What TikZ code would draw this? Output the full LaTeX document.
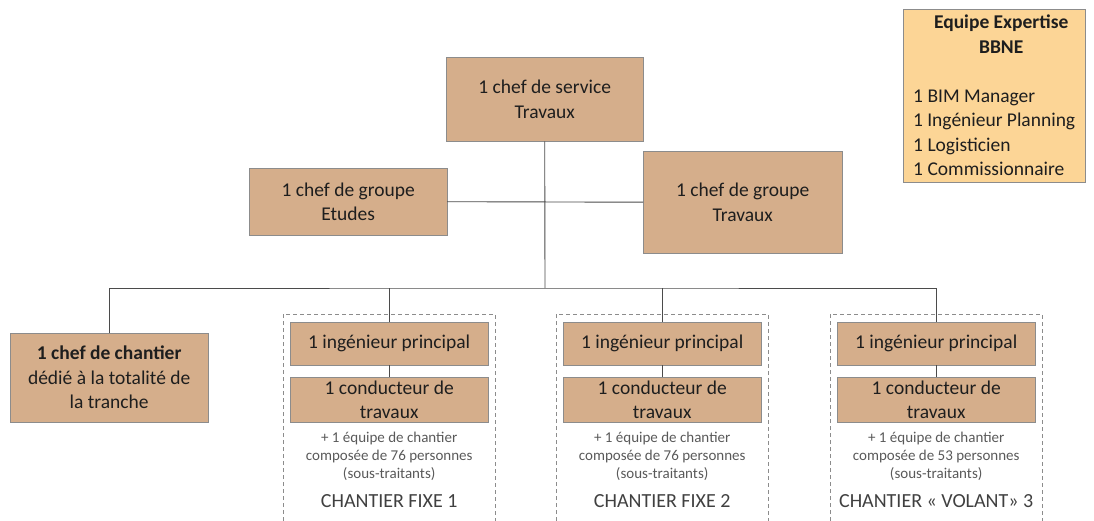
\documentclass[tikz,border=0pt]{standalone}
\usepackage{fontspec}
\setmainfont{Carlito}
\usetikzlibrary{positioning}

\definecolor{tan}{RGB}{213,174,139}
\definecolor{sable}{RGB}{252,213,150}
\definecolor{boxline}{RGB}{140,140,140}
\definecolor{ink}{RGB}{30,30,30}
\definecolor{grisclair}{RGB}{89,89,89}

\begin{document}
\begin{tikzpicture}[
    x=1pt, y=-1pt,
    every node/.append style = {font=\fontsize{19.5}{24.5}\selectfont},
    poste/.style = {draw=boxline, fill=tan, text=ink, align=center,
      inner sep=0pt, minimum width=198pt, anchor=north west},
    lien/.style = {draw=ink!80, line width=0.9pt},
    chantier/.style = {draw=boxline, dash pattern=on 4pt off 3pt, line width=0.9pt},
    equipe/.style = {text=grisclair, align=center,
      font=\fontsize{15}{18}\selectfont},
    titre/.style = {text=ink!85, font=\fontsize{20}{24}\selectfont}
  ]
  \useasboundingbox (0,0) rectangle (1094,521);
  % top of the chart
  \node[poste, minimum width=197pt, minimum height=84pt] (service) at (446,57)
    {1 chef de service\\Travaux};
  \node[poste, minimum height=67pt] (etudes) at (249,168)
    {1 chef de groupe\\Etudes};
  \node[poste, minimum width=199pt, minimum height=102pt] (travaux) at (643,151)
    {1 chef de groupe\\Travaux};
  \coordinate (bus) at (545,288);
  \draw[lien] (service.south) -- (bus);
  \draw[lien] (etudes.east) -- (travaux.west);
  % the chantier chief
  \node[poste, minimum height=89pt] (chef) at (10,333)
    {\textbf{1 chef de chantier}\\dédié à la totalité de\\la tranche};
  % the three sites
  \foreach \x/\n/\p/\nom in {290/1/76/{CHANTIER FIXE 1},
      563/2/76/{CHANTIER FIXE 2},
      837/3/53/{CHANTIER « VOLANT» 3}} {
    \draw[chantier] (\x-7,521) -- (\x-7,314) -- (\x+205,314) -- (\x+205,521);
    \node[poste, minimum height=43pt] (ing\n) at (\x,322)
      {1 ingénieur principal};
    \node[poste, minimum height=45pt] (cond\n) at (\x,377)
      {1 conducteur de\\[-1pt]travaux};
    \draw[lien] (ing\n.south) -- (cond\n.north);
    \node[equipe, below=6pt of cond\n] (eq\n)
      {+ 1 équipe de chantier\\composée de \p{} personnes\\(sous-traitants)};
    \node[titre, below=7pt of eq\n] (nom\n) {\nom};
  }
  \draw[lien] (chef.north) |- (bus) -| (ing3.north);
  \draw[lien] (ing1.north) -- (ing1.north |- bus);
  \draw[lien] (ing2.north) -- (ing2.north |- bus);
  % expertise
  \node[draw=boxline, fill=sable, text=ink, align=flush left, anchor=north west,
    minimum width=182pt, minimum height=173pt, inner ysep=0pt, inner xsep=10pt,
    text width=162pt] (expertise) at (903,9)
    {{\centering\hspace*{14pt}\textbf{Equipe Expertise}\\\hspace*{14pt}\textbf{BBNE}\par}
     \vspace{24.5pt}
     1 BIM Manager\\1 Ingénieur Planning\\1 Logisticien\\1 Commissionnaire\par};
\end{tikzpicture}
\end{document}
